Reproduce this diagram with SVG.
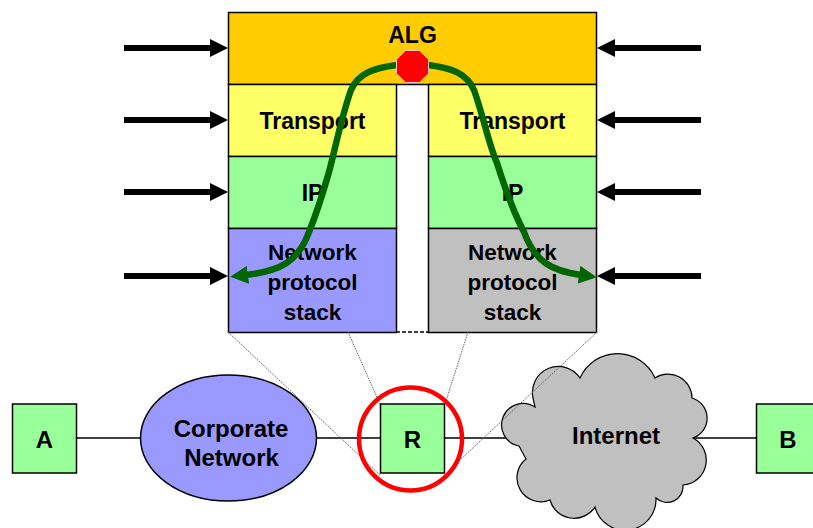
<svg xmlns="http://www.w3.org/2000/svg" width="813" height="528" viewBox="0 0 813 528">
<defs>
<marker id="bk" markerUnits="userSpaceOnUse" markerWidth="20" markerHeight="18" refX="2" refY="9" orient="auto"><path d="M0 0L18 9L0 18Z" fill="#000"/></marker>
<marker id="gr" markerUnits="userSpaceOnUse" markerWidth="20" markerHeight="18" refX="2" refY="9" orient="auto"><path d="M0 0L18 9L0 18Z" fill="#006600"/></marker>
</defs>
<style>
text{font-family:"Liberation Sans",Arial,sans-serif;font-weight:bold;font-size:23px;fill:#000;text-anchor:middle}
.n{font-size:22.500px}
.l{font-size:24px}
.b{stroke:#000;stroke-width:1.500}
.arrow{stroke:#000;stroke-width:6;fill:none;marker-end:url(#bk)}
.thin{stroke:#000;stroke-width:1.300;fill:none}
.dot{stroke:#666;stroke-width:1;stroke-dasharray:1.500 1;fill:none}
.flow{stroke:#006600;stroke-width:6.500;fill:none;marker-end:url(#gr)}
</style>
<g id="connectors">
<path class="arrow" d="M124 48H212"/><path class="arrow" d="M124 120H212"/><path class="arrow" d="M124 192H212"/><path class="arrow" d="M124 276H212"/>
<path class="arrow" d="M701 48H613"/><path class="arrow" d="M701 120H613"/><path class="arrow" d="M701 192H613"/><path class="arrow" d="M701 276H613"/>
<path class="thin" d="M77 438H140M317 438H380M444 438H510M690 438H756"/>
<path d="M396 332H428" stroke="#000" stroke-width="1.500" stroke-dasharray="4 2"/>
</g>
<g id="alg"><rect class="b" x="228.500" y="12.500" width="368" height="72" fill="#ffcc00"/><text x="412.500" y="43">ALG</text></g>
<g id="transport-left"><rect class="b" x="228.500" y="84.500" width="168" height="72" fill="#ffff66"/><text x="312.500" y="129">Transport</text></g>
<g id="transport-right"><rect class="b" x="428.500" y="84.500" width="168" height="72" fill="#ffff66"/><text x="512.500" y="129">Transport</text></g>
<g id="ip-left"><rect class="b" x="228.500" y="156.500" width="168" height="72" fill="#99ff99"/><text x="312.500" y="200.500">IP</text></g>
<g id="ip-right"><rect class="b" x="428.500" y="156.500" width="168" height="72" fill="#99ff99"/><text x="512.500" y="200.500">IP</text></g>
<g id="stack-left"><rect class="b" x="228.500" y="228.500" width="168" height="104" fill="#9999ff"/><text class="n" x="312.500" y="259.500">Network</text><text class="n" x="312.500" y="290">protocol</text><text class="n" x="312.500" y="320">stack</text></g>
<g id="stack-right"><rect class="b" x="428.500" y="228.500" width="168" height="104" fill="#c0c0c0"/><text class="n" x="512.500" y="259.500">Network</text><text class="n" x="512.500" y="290">protocol</text><text class="n" x="512.500" y="320">stack</text></g>
<g id="flow">
<path class="flow" d="M397 65C372 68 358 74 351 90C342 115 336 145 329 172C321 200 316 215 309 232C298 262 280 271 246 275"/>
<path class="flow" d="M428 65C453 68 467 74 474 90C483 115 489 145 497 163C507 195 515 215 524 232C535 262 552 271 581 275"/>
</g>
<g id="stop"><polygon points="405.500,50.500 419.500,50.500 428.500,59.500 428.500,73.500 419.500,82.500 405.500,82.500 396.500,73.500 396.500,59.500" fill="#ff0000" stroke="#ffc8c8" stroke-width="1"/></g>
<g id="node-a"><rect class="b" x="12.500" y="404" width="64" height="69" fill="#99ff99"/><text class="l" x="44.300" y="447.500">A</text></g>
<g id="corporate"><ellipse class="b" cx="228.500" cy="438" rx="88" ry="63" fill="#9999ff"/><text class="l" x="231" y="437">Corporate</text><text class="l" x="231.500" y="466">Network</text></g>
<g id="node-r"><rect class="b" x="380.500" y="404" width="64" height="69" fill="#99ff99"/><text class="l" x="412.500" y="447.500">R</text></g>
<g id="internet"><path stroke="#000" stroke-width="1.200" fill="#c0c0c0" d="M519 446L526 459A24 24 0 0 0 550 500A25 25 0 0 0 595 507A31 31 0 0 0 656 498A16 16 0 0 0 683 485A25 25 0 0 0 693 438A21 21 0 0 0 692 398A24 24 0 0 0 655 378A41 41 0 0 0 580 378A26 26 0 0 0 533 398L535 407A21.500 21.500 0 1 0 519 446Z"/><text class="l" x="616" y="443.500">Internet</text></g>
<g id="node-b"><rect class="b" x="756.500" y="404" width="64" height="69" fill="#99ff99"/><text class="l" x="788" y="447.500">B</text></g>
<g id="guides"><path class="dot" d="M228 332L380 475M348 332L380 404M468 332L445 404M597 332L460 460"/></g>
<g id="circle"><circle cx="410.500" cy="439" r="51.500" fill="none" stroke="#ff0000" stroke-width="4.500"/></g>
</svg>
